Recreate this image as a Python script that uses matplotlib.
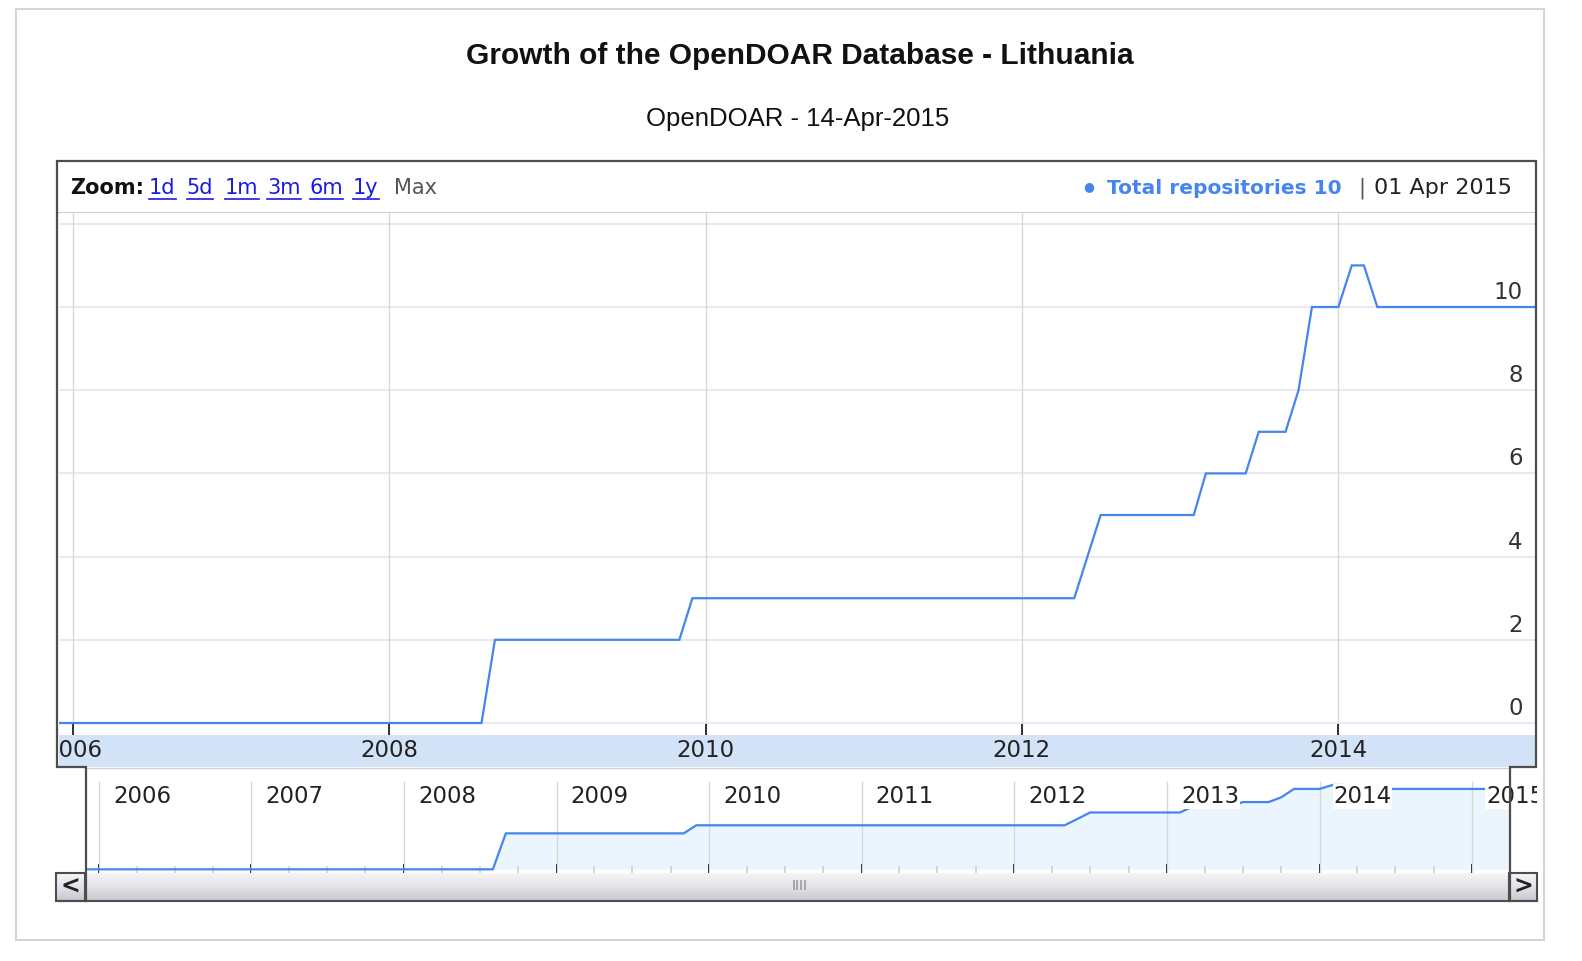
import numpy as np
import matplotlib
matplotlib.use("Agg")
import matplotlib.pyplot as plt
import matplotlib.dates as mdates
from matplotlib.transforms import Bbox, TransformedBbox, blended_transform_factory

W, H = 1582, 961

# monthly snapshots of the repository count
dates = ["2005-12-01", "2008-08-01", "2008-09-01", "2009-11-01", "2009-12-01",
         "2012-05-01", "2012-07-01", "2013-02-01", "2013-03-01", "2013-06-01",
         "2013-07-01", "2013-09-01", "2013-10-01", "2013-11-01", "2014-01-01",
         "2014-02-01", "2014-03-01", "2014-04-01", "2015-04-01"]
totals = [0, 0, 2, 2, 3, 3, 5, 5, 6, 6, 7, 7, 8, 10, 10, 11, 11, 10, 10]

main_years = [2006, 2008, 2010, 2012, 2014]
main_yticks = [0, 2, 4, 6, 8, 10]
overview_years = list(range(2006, 2016))
zoom_links = ["1d", "5d", "1m", "3m", "6m", "1y"]

title = "Growth of the OpenDOAR Database - Lithuania"
subtitle = "OpenDOAR - 14-Apr-2015"
series_name = "Total repositories"
last_date = "01 Apr 2015"

LINE = "#4684ee"
BAND = "#d3e3f7"
FILL = "#ebf5fe"
HGRID = "#e9e9f4"
VGRID = "#d3dcd3"
FRAME = "#4d4d4d"


def rect(x0, y0, x1, y1):
    return [x0 / W, 1 - y1 / H, (x1 - x0) / W, (y1 - y0) / H]


def year(y, m=1):
    return mdates.date2num(np.datetime64(f"{y}-{m:02d}-01"))


x = mdates.date2num(np.array(dates, dtype="datetime64[D]"))
y = np.array(totals)

fig = plt.figure(figsize=(W / 100, H / 100), dpi=100)

bg = fig.add_axes([0, 0, 1, 1])
bg.set_xlim(0, W)
bg.set_ylim(H, 0)
bg.axis("off")

# page border and titles
bg.add_patch(plt.Rectangle((15.5, 8.5), 1528.5, 931.5, fill=False, ec="#d4d4d4", lw=1.5))
bg.text(800, 56, title, ha="center", va="center", fontsize=21.5, fontweight="bold",
        family="Liberation Sans", color="#111")
bg.text(798, 119, subtitle, ha="center", va="center", fontsize=18.5,
        family="Liberation Sans", color="#111")

# header strip
bg.plot([58, 1534], [212.5, 212.5], color="#cfcfcf", lw=1.5)
hdr_y = 188
bg.text(70, hdr_y, "Zoom:", ha="left", va="center", fontsize=15, fontweight="bold", color="#111")
link_x = [149, 186.5, 225, 267, 309.5, 353]
links = []
for lx, lab in zip(link_x, zoom_links):
    links.append(bg.text(lx, hdr_y, lab, ha="left", va="center", fontsize=15, color="#1a1ae0"))
bg.text(394, hdr_y, "Max", ha="left", va="center", fontsize=15, color="#555")
bg.text(1089, hdr_y - 1, "\u25cf", ha="center", va="center", fontsize=9, color=LINE)
bg.text(1107, hdr_y, f"{series_name} {totals[-1]}", ha="left", va="center",
        fontsize=14.5, fontweight="bold", color=LINE)
bg.text(1362, hdr_y, "|", ha="center", va="center", fontsize=15, color="#555")
bg.text(1512, hdr_y, last_date, ha="right", va="center", fontsize=16, color="#222")

# main chart
ax = fig.add_axes(rect(58.5, 213, 1534.5, 734.5))
ax.plot(x, y, color=LINE, lw=1.6, solid_joinstyle="miter", zorder=3)
for v in range(0, 13, 2):
    ax.axhline(v, color=HGRID, lw=1.5, zorder=1)
for yr in main_years:
    ax.axvline(year(yr), color=VGRID, lw=1, zorder=1)
ax.set_xticks([year(yr) for yr in main_years])
ax.set_xticklabels([])
ax.set_yticks([])
ax.set_xlim(mdates.date2num(np.datetime64("2005-11-28")), mdates.date2num(np.datetime64("2015-03-30")))
ax.set_ylim(-0.276, 12.26)
ax.tick_params(axis="x", direction="in", length=8, width=1.2, color="#111")
for s in ax.spines.values():
    s.set_visible(False)
ytr = blended_transform_factory(ax.transAxes, ax.transData)
for v in main_yticks:
    ax.annotate(str(v), xy=(1, v), xycoords=ytr, xytext=(-12, 8), textcoords="offset pixels",
                ha="right", va="baseline", fontsize=16.5, color="#333", zorder=4)

# date band under the main chart
band = fig.add_axes(rect(58.5, 734.5, 1534.5, 767))
band.set_facecolor(BAND)
band.set_xlim(ax.get_xlim())
band.set_ylim(0, 1)
band.set_xticks([])
band.set_yticks([])
for s in band.spines.values():
    s.set_visible(False)
for yr in main_years:
    band.text(year(yr), 0.5, str(yr), ha="center", va="center", fontsize=16.5,
              color="#222", clip_on=True)

# overview strip
ov = fig.add_axes(rect(86, 767, 1510, 873))
ov.set_yscale("function", functions=(lambda v: np.sign(v) * np.sqrt(np.abs(v)),
                                     lambda v: np.sign(v) * v ** 2))
ov.fill_between(x, y, 0, color=FILL, lw=0, zorder=1)
ov.plot(x, y, color=LINE, lw=1.6, zorder=3)
for yr in overview_years:
    ov.axvline(year(yr), ymin=0, ymax=0.86, color=VGRID, lw=1, zorder=2)
ov.set_xticks([year(yr) for yr in overview_years])
ov.set_xticks([year(yr, m) for yr in range(2005, 2016) for m in (4, 7, 10)], minor=True)
ov.set_xticklabels([])
ov.set_yticks([])
ov.yaxis.set_minor_locator(matplotlib.ticker.NullLocator())
ov.set_xlim(mdates.date2num(np.datetime64("2005-12-01")), mdates.date2num(np.datetime64("2015-04-02")))
ov.set_ylim(-0.021, 16.2)
ov.tick_params(axis="x", which="major", direction="in", length=6.5, width=1.4, color="#111")
ov.tick_params(axis="x", which="minor", direction="in", length=5, width=1.2, color="#c5d9c0")
for s in ov.spines.values():
    s.set_visible(False)
clip = TransformedBbox(Bbox([[86 / W, 1 - 873 / H], [1537 / W, 1 - 767 / H]]), fig.transFigure)
xtr = blended_transform_factory(ov.transData, ov.transAxes)
for yr in overview_years:
    t = ov.annotate(str(yr), xy=(year(yr), 0.72), xycoords=xtr, xytext=(14, 0),
                    textcoords="offset pixels", ha="left", va="center", fontsize=16.5,
                    color="#222", zorder=5, annotation_clip=False,
                    bbox=dict(facecolor="white", edgecolor="none", pad=0.5))
    t.set_clip_box(clip)
    t.set_clip_on(True)

# frame, scrollbar
top = fig.add_axes([0, 0, 1, 1])
top.set_xlim(0, W)
top.set_ylim(H, 0)
top.axis("off")
top.patch.set_alpha(0)

grad = np.linspace(0, 1, 50).reshape(-1, 1)
cmap = matplotlib.colors.LinearSegmentedColormap.from_list("sb", ["#f6f6f8", "#e2e2e8", "#c7c7d1"])
top.imshow(grad, cmap=cmap, extent=(56, 1537, 901, 873), aspect="auto", zorder=1)
top.plot([56, 1537], [901, 901], color=FRAME, lw=1.5, zorder=2)
for bx0, bx1, glyph in [(56, 85, "<"), (1509, 1537, ">")]:
    top.add_patch(plt.Rectangle((bx0, 873), bx1 - bx0, 28, fill=False, ec=FRAME, lw=1.5, zorder=3))
    top.text((bx0 + bx1) / 2, 887, glyph, ha="center", va="center", fontsize=17,
             fontweight="bold", color="#222", zorder=4)
top.text(800, 886, "IIII", ha="center", va="center", fontsize=10, color="#8a8a8a", zorder=4)

top.plot([86, 86, 57, 57, 1535.5, 1535.5, 1510, 1510],
         [901, 767, 767, 161, 161, 767, 767, 901], color=FRAME, lw=1.6, zorder=5,
         solid_joinstyle="miter")
top.plot([85, 1510], [767.5, 767.5], color="#c8d2e0", lw=1, zorder=4)

# underline the zoom links
fig.canvas.draw()
r = fig.canvas.get_renderer()
for t in links:
    bb = t.get_window_extent(r)
    top.plot([bb.x0, bb.x1], [H - bb.y0 + 1, H - bb.y0 + 1], color="#1a1ae0", lw=1.2, zorder=6)

fig.savefig("out.png", dpi=100)
